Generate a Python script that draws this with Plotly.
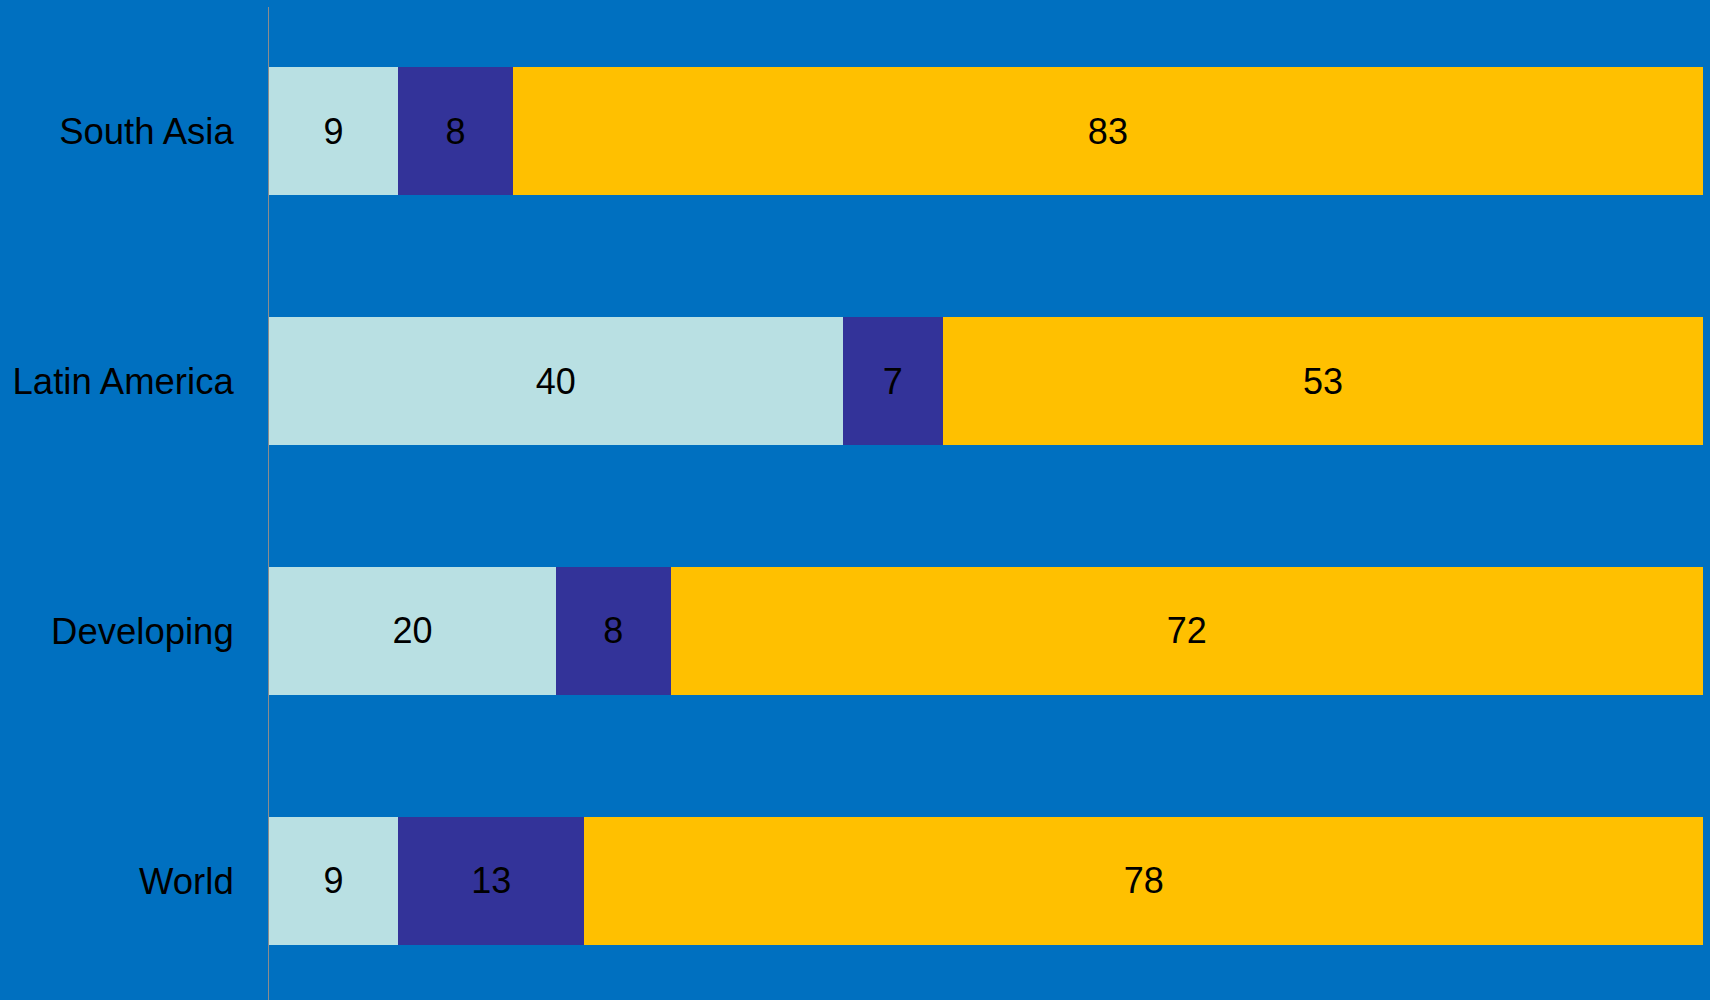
import plotly.graph_objects as go

regions = ["South Asia", "Latin America", "Developing", "World"]
series_a = [9, 40, 20, 9]
series_b = [8, 7, 8, 13]
series_c = [83, 53, 72, 78]
colors = ["#B9E0E3", "#333399", "#FFC000"]

fig = go.Figure()
for vals, col in zip([series_a, series_b, series_c], colors):
    fig.add_trace(go.Bar(
        y=regions, x=vals, orientation="h",
        marker=dict(color=col, line=dict(width=0)),
        text=[str(v) for v in vals], textposition="inside",
        insidetextanchor="middle",
        textfont=dict(family="Liberation Sans, Arial, sans-serif", size=36, color="black"),
        hoverinfo="skip", showlegend=False,
    ))

fig.update_layout(
    barmode="stack",
    bargap=0.489,
    width=1710, height=1000,
    margin=dict(l=269, r=7, t=7, b=0),
    paper_bgcolor="#0070C0",
    plot_bgcolor="#0070C0",
    font=dict(family="Liberation Sans, Arial, sans-serif", size=36.5, color="black"),
)
fig.update_xaxes(range=[0, 100], showgrid=False, zeroline=False, showticklabels=False, showline=False)
fig.update_yaxes(
    type="category", categoryorder="array", categoryarray=regions,
    range=[3.477, -0.497],
    showgrid=False, zeroline=False,
    showline=True, linecolor="#8C8C8C", linewidth=1,
    ticks="outside", ticklen=27, tickcolor="rgba(0,0,0,0)",
    tickfont=dict(size=36.5, color="black"),
)

fig.write_html(
    "out.html",
    config={"displayModeBar": False},
    post_script="document.body.style.margin='0';document.body.style.background='#0070C0';",
)
